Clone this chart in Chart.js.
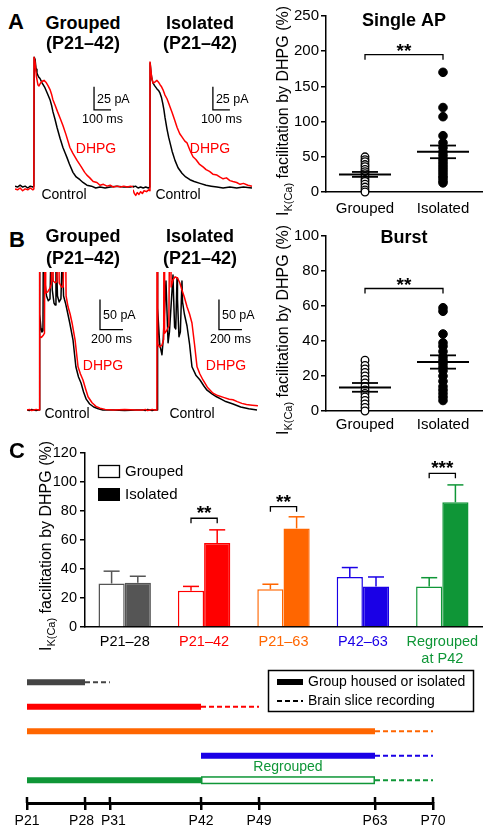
<!DOCTYPE html>
<html>
<head>
<meta charset="utf-8">
<title>DHPG facilitation of IK(Ca)</title>
<script src="https://cdn.jsdelivr.net/npm/chart.js@4.4.1/dist/chart.umd.min.js"></script>
<style>
  html, body { margin: 0; padding: 0; background: #fff; }
  #fig { position: relative; width: 493px; height: 834px; overflow: hidden; font-family: "Liberation Sans", Arial, Helvetica, sans-serif; }
  #fig canvas { position: absolute; }
  .lbl { position: absolute; transform: translate(-50%, -50%); white-space: nowrap; line-height: 1; color: #000; }
  .panel { font-weight: bold; font-size: 22px; }
  .ttl { font-weight: bold; font-size: 18px; }
  .dhpg { color: #ff0000; font-size: 14px; }
  .ctrl { font-size: 14px; }
</style>
</head>
<body>
<div id="fig">
  <canvas id="traceAGrouped" width="120" height="147" style="left:15px;top:50px"></canvas>
  <canvas id="traceAIsolated" width="120" height="147" style="left:133px;top:50px"></canvas>
  <canvas id="traceBGrouped" width="116" height="142" style="left:27px;top:272px"></canvas>
  <canvas id="traceBIsolated" width="117" height="142" style="left:143px;top:272px"></canvas>
  <canvas id="scatterA" width="231" height="225" style="left:262px;top:0px"></canvas>
  <canvas id="scatterB" width="231" height="215" style="left:262px;top:225px"></canvas>
  <canvas id="barsC" width="493" height="228" style="left:0px;top:440px"></canvas>
  <canvas id="timeline" width="493" height="166" style="left:0px;top:668px"></canvas>

  <div class="lbl panel" style="left:16px;top:22px">A</div>
  <div class="lbl ttl" style="left:83px;top:23px">Grouped</div>
  <div class="lbl ttl" style="left:83px;top:43px">(P21–42)</div>
  <div class="lbl ttl" style="left:200px;top:23px">Isolated</div>
  <div class="lbl ttl" style="left:200px;top:43px">(P21–42)</div>
  <div class="lbl dhpg" style="left:96px;top:148px">DHPG</div>
  <div class="lbl dhpg" style="left:210px;top:148px">DHPG</div>
  <div class="lbl ctrl" style="left:64px;top:194px">Control</div>
  <div class="lbl ctrl" style="left:178px;top:194px">Control</div>

  <div class="lbl panel" style="left:17px;top:240px">B</div>
  <div class="lbl ttl" style="left:83px;top:236px">Grouped</div>
  <div class="lbl ttl" style="left:83px;top:258px">(P21–42)</div>
  <div class="lbl ttl" style="left:200px;top:236px">Isolated</div>
  <div class="lbl ttl" style="left:200px;top:258px">(P21–42)</div>
  <div class="lbl dhpg" style="left:103px;top:365px">DHPG</div>
  <div class="lbl dhpg" style="left:226px;top:365px">DHPG</div>
  <div class="lbl ctrl" style="left:67px;top:413px">Control</div>
  <div class="lbl ctrl" style="left:192px;top:413px">Control</div>

  <div class="lbl panel" style="left:17px;top:451px">C</div>
</div>

<script>
// ---- data ----

// Panel A traces: [time ms, current pA]
const aGroupedDhpg = [[0,-2],[15,-3],[30,-1],[45,-4],[60,-2],[75,-3],[90,-1],[105,-3],[111,-2],[112,141],[118,136],[126,120],[135,111],[141,110],[150,113],[160,115],[171,116],[182,114],[195,110],[206,106],[215,101],[223,95],[236,89],[250,82],[265,75],[282,67],[300,57],[323,43],[340,37],[365,29],[390,22],[410,16],[423,13],[440,10],[460,6],[482,5],[500,2],[520,3],[541,1],[560,2],[580,0],[600,1],[620,0],[640,1],[660,0],[680,1],[700,0]];
const aGroupedCtrl = [[0,1],[15,0],[30,2],[45,0],[60,1],[75,-1],[90,1],[105,0],[111,1],[113,141],[118,139],[124,128],[129,124],[138,120],[147,118],[160,113],[176,108],[190,102],[206,95],[215,89],[223,82],[235,74],[247,65],[265,53],[282,43],[295,37],[306,32],[320,25],[341,16],[360,11],[382,8],[400,5],[423,2],[450,1],[475,-1],[500,0],[530,-1],[560,0],[600,1],[640,0],[680,0],[700,1]];
const aIsolatedDhpg = [[0,-2],[8,-6],[16,-8],[25,-5],[35,-7],[45,-4],[55,-6],[65,-3],[80,-4],[92,-2],[99,-3],[100,137],[104,130],[110,120],[118,114],[128,115],[141,117],[150,115],[160,112],[168,110],[176,107],[188,101],[200,97],[210,92],[218,88],[230,82],[245,74],[259,66],[275,59],[290,55],[305,51],[318,49],[335,41],[353,34],[370,31],[390,26],[412,23],[430,20],[450,18],[470,15],[494,14],[510,12],[530,10],[550,11],[570,8],[588,7],[610,6],[630,4],[650,5],[676,3],[700,2]];
const aIsolatedCtrl = [[0,1],[15,2],[30,0],[45,1],[60,0],[75,1],[90,0],[99,1],[101,136],[106,125],[112,118],[118,114],[128,111],[140,108],[150,106],[159,103],[168,98],[175,92],[182,85],[188,77],[200,64],[210,55],[218,49],[230,40],[247,30],[265,22],[288,16],[310,12],[335,9],[360,7],[394,5],[430,3],[460,2],[494,1],[530,0],[570,1],[610,0],[650,1],[700,0]];

// Panel B traces (spikes run off the top of the panel)
const bGroupedDhpg = [[0,0],[20,1],[40,-1],[60,0],[80,1],[100,0],[106,0],[107,400],[110,400],[113,122],[125,121],[140,124],[152,128],[157,400],[160,400],[165,195],[180,197],[200,203],[212,210],[218,400],[222,400],[228,215],[245,212],[260,214],[270,400],[274,400],[280,212],[300,205],[315,205],[331,400],[335,400],[340,190],[357,172],[375,160],[392,145],[418,117],[444,72],[465,60],[487,50],[510,35],[531,22],[566,12],[600,6],[635,3],[680,1],[750,0],[850,1],[950,0],[1009,0]];
const bGroupedCtrl = [[0,0],[20,-1],[40,1],[60,0],[80,-1],[100,0],[106,0],[108,380],[113,160],[122,135],[130,130],[139,132],[145,400],[150,380],[158,210],[170,190],[185,182],[200,185],[208,260],[213,240],[220,200],[235,178],[244,175],[252,260],[258,240],[265,190],[280,180],[295,185],[305,250],[312,230],[318,190],[335,178],[350,165],[372,145],[400,117],[425,72],[448,55],[470,45],[492,30],[515,18],[545,10],[580,5],[620,2],[660,0],[750,0],[850,-1],[950,0],[1009,0]];
const bIsolatedDhpg = [[0,0],[20,1],[40,-1],[60,0],[80,1],[100,0],[121,0],[122,400],[125,400],[130,110],[145,105],[165,108],[180,118],[183,400],[186,400],[190,128],[205,132],[225,140],[235,400],[238,400],[245,205],[261,217],[280,222],[300,220],[320,212],[339,200],[360,188],[383,172],[405,160],[426,145],[448,110],[470,72],[495,60],[522,50],[560,38],[609,28],[650,24],[700,21],[750,18],[783,17],[820,14],[860,11],[900,9],[950,8],[1000,7]];
const bIsolatedCtrl = [[0,0],[20,-1],[40,1],[60,0],[80,-1],[100,0],[122,0],[124,330],[130,170],[145,110],[165,92],[175,115],[200,215],[206,180],[218,112],[230,130],[261,225],[266,190],[275,138],[285,135],[296,220],[300,185],[313,122],[325,130],[339,215],[344,180],[360,160],[383,140],[405,110],[426,72],[460,58],[496,50],[530,40],[557,33],[600,27],[640,22],[680,18],[720,14],[783,10],[850,5],[920,2],[992,0]];

// Scatter panels (% facilitation)
const scatterGroups = ['Grouped', 'Isolated'];
const singleApGrouped = [50, 46, 43, 39, 36, 32, 29, 26, 22, 18, 15, 11, 7, 3, 0];
const singleApIsolated = [170, 120, 107, 80, 70, 63, 57, 52, 47, 43, 39, 35, 31, 27, 23, 20, 16, 13];
const singleApMean = [25, 57];
const singleApSem = [3.5, 9];
const burstGrouped = [29, 26, 24, 22, 20, 18, 16, 14, 12, 10, 8, 6, 4, 2, 0];
const burstIsolated = [59, 57, 44, 39, 37, 34, 31, 29, 27, 25, 23, 20, 17, 14, 12, 10, 8, 6];
const burstMean = [13.5, 28];
const burstSem = [2.5, 3.8];

// Panel C bars
const groupsC = ['P21–28', 'P21–42', 'P21–63', 'P42–63', ['Regrouped', 'at P42']];
const groupedC = [30, 25, 26, 34.5, 28];
const groupedErr = [8.5, 3, 3.5, 6.5, 6];
const isolatedC = [30.5, 58, 68, 28, 86];
const isolatedErr = [4.5, 9, 8, 6.5, 12];
const sigC = [null, 75, 83, null, 106];
const sigLabelC = ['', '**', '**', '', '***'];

// Timeline (postnatal day)
const timelineStart = [21, 21, 21, 42, 21];
const timelineEnd = [28, 42, 63, 63, 42];
const regroupedEnd = [null, null, null, null, 63];
const recordEnd = [31, 49, 70, 70, 70];
const dayTicks = [21, 28, 31, 42, 49, 63, 70];

// ---- styling ----
const FONT = '"Liberation Sans", Arial, Helvetica, sans-serif';
const RED = '#ff0000';
const colorsC = ['#555555', '#ff0000', '#ff6600', '#1a00e6', '#0f9637'];
const labelColorsC = ['#000000', '#ff0000', '#ff6600', '#1a00e6', '#0f9637'];
const tlColors = ['#444444', '#ff0000', '#ff6600', '#1a00e6', '#0f9637'];
// crowded day labels are pushed apart a little, as in the original
const dayLabelNudge = { 28: 'P28\u2002', 31: '\u2002P31' };

Chart.defaults.font.family = FONT;
Chart.defaults.font.size = 15;
Chart.defaults.color = '#000';
Chart.defaults.animation = false;
Chart.defaults.responsive = false;
Chart.defaults.devicePixelRatio = 1;
Chart.defaults.plugins.legend.display = false;
Chart.defaults.plugins.tooltip.enabled = false;

const xy = arr => arr.map(p => ({ x: p[0], y: p[1] }));

function line(ctx, x0, y0, x1, y1) {
    ctx.beginPath();
    ctx.moveTo(x0, y0);
    ctx.lineTo(x1, y1);
    ctx.stroke();
}

// rotated "I K(Ca) facilitation by DHPG (%)" with a subscript
function yTitle(ctx, cx, cy) {
    ctx.save();
    ctx.translate(cx, cy);
    ctx.rotate(-Math.PI / 2);
    ctx.fillStyle = '#000';
    ctx.textAlign = 'left';
    ctx.textBaseline = 'alphabetic';
    const parts = [['I', 16, 0], ['K(Ca)', 11, 4], [' facilitation by DHPG (%)', 16, 0]];
    let w = 0;
    parts.forEach(p => { ctx.font = p[1] + 'px ' + FONT; w += ctx.measureText(p[0]).width; });
    let x = -w / 2;
    parts.forEach(p => {
        ctx.font = p[1] + 'px ' + FONT;
        ctx.fillText(p[0], x, 6 + p[2]);
        x += ctx.measureText(p[0]).width;
    });
    ctx.restore();
}

// scale bar drawn through the trace chart's own scales
const scaleBarPlugin = {
    id: 'scaleBar',
    afterDatasetsDraw(chart, args, opts) {
        if (!opts || opts.t === undefined) return;
        const { ctx, scales: { x, y } } = chart;
        const x0 = x.getPixelForValue(opts.t), y0 = y.getPixelForValue(opts.i);
        const x1 = x.getPixelForValue(opts.t + opts.dt), y1 = y.getPixelForValue(opts.i + opts.di);
        ctx.save();
        ctx.strokeStyle = '#000';
        ctx.lineWidth = 1.3;
        ctx.beginPath();
        ctx.moveTo(x0, y1);
        ctx.lineTo(x0, y0);
        ctx.lineTo(x1, y0);
        ctx.stroke();
        ctx.fillStyle = '#000';
        ctx.font = '12.5px ' + FONT;
        ctx.textAlign = 'left';
        ctx.textBaseline = 'middle';
        ctx.fillText(opts.yLabel, x0 + 3, (y0 + y1) / 2 + 1);
        ctx.textAlign = 'center';
        ctx.fillText(opts.xLabel, (x0 + x1) / 2, y0 + 10);
        ctx.restore();
    }
};

function traceChart(id, ctrl, dhpg, xMax, yMin, yMax, bar) {
    return new Chart(document.getElementById(id), {
        type: 'line',
        data: {
            datasets: [
                { data: xy(dhpg), borderColor: RED, borderWidth: 1.5, pointRadius: 0, borderJoinStyle: 'round' },
                { data: xy(ctrl), borderColor: '#000', borderWidth: 1.5, pointRadius: 0, borderJoinStyle: 'round' }
            ]
        },
        options: {
            layout: { padding: 0 },
            scales: {
                x: { type: 'linear', display: false, min: 0, max: xMax },
                y: { type: 'linear', display: false, min: yMin, max: yMax }
            },
            plugins: { scaleBar: bar }
        },
        plugins: [scaleBarPlugin]
    });
}

traceChart('traceAGrouped', aGroupedCtrl, aGroupedDhpg, 706, -10.8, 149,
    { t: 465, i: 84, dt: 100, di: 25, xLabel: '100 ms', yLabel: '25 pA' });
traceChart('traceAIsolated', aIsolatedCtrl, aIsolatedDhpg, 706, -9.8, 150,
    { t: 470, i: 85, dt: 100, di: 25, xLabel: '100 ms', yLabel: '25 pA' });
traceChart('traceBGrouped', bGroupedCtrl, bGroupedDhpg, 1009, -6.7, 230,
    { t: 635, i: 134, dt: 200, di: 50, xLabel: '200 ms', yLabel: '50 pA' });
traceChart('traceBIsolated', bIsolatedCtrl, bIsolatedDhpg, 1018, -6.7, 230,
    { t: 661, i: 134, dt: 200, di: 50, xLabel: '200 ms', yLabel: '50 pA' });

// scatter with mean ± SEM lines
function scatterChart(id, grp, iso, mean, sem, cfg) {
    const decor = {
        id: 'scatterDecor',
        afterDatasetsDraw(chart) {
            const { ctx, chartArea, scales: { x, y } } = chart;
            ctx.save();
            ctx.strokeStyle = '#000';
            mean.forEach((m, i) => {
                const cx = x.getPixelForValue(i);
                ctx.lineWidth = 2;
                line(ctx, cx - 26, y.getPixelForValue(m), cx + 26, y.getPixelForValue(m));
                ctx.lineWidth = 1.8;
                line(ctx, cx - 13, y.getPixelForValue(m + sem[i]), cx + 13, y.getPixelForValue(m + sem[i]));
                line(ctx, cx - 13, y.getPixelForValue(m - sem[i]), cx + 13, y.getPixelForValue(m - sem[i]));
            });
            // significance bracket
            const xa = x.getPixelForValue(0), xb = x.getPixelForValue(1), yb = y.getPixelForValue(cfg.sig);
            ctx.lineWidth = 1.3;
            ctx.beginPath();
            ctx.moveTo(xa, yb + 5);
            ctx.lineTo(xa, yb);
            ctx.lineTo(xb, yb);
            ctx.lineTo(xb, yb + 5);
            ctx.stroke();
            ctx.fillStyle = '#000';
            ctx.textAlign = 'center';
            ctx.font = 'bold 19px ' + FONT;
            ctx.textBaseline = 'alphabetic';
            ctx.fillText('**', (xa + xb) / 2, yb + 2);
            // panel title
            ctx.font = 'bold 18px ' + FONT;
            ctx.textBaseline = 'middle';
            ctx.fillText(cfg.title, (chartArea.left + chartArea.right) / 2, cfg.titleY);
            yTitle(ctx, 20, cfg.yTitleY);
            ctx.restore();
        }
    };
    return new Chart(document.getElementById(id), {
        type: 'scatter',
        data: {
            labels: scatterGroups,
            datasets: [
                { data: grp.map(v => ({ x: scatterGroups[0], y: v })), pointRadius: 3.8, backgroundColor: '#fff', borderColor: '#000', borderWidth: 1.3, clip: false },
                { data: iso.map(v => ({ x: scatterGroups[1], y: v })), pointRadius: 4.3, backgroundColor: '#000', borderColor: '#000', borderWidth: 1, clip: false }
            ]
        },
        options: {
            layout: { padding: { top: cfg.padTop, right: 11, left: 0, bottom: 0 } },
            scales: {
                x: {
                    type: 'category', offset: true,
                    grid: { display: false, drawTicks: false },
                    border: { color: '#000', width: 1.5 },
                    ticks: { padding: cfg.labelPad, font: { size: 15 } },
                    afterFit: s => { s.height = cfg.xH; }
                },
                y: {
                    min: 0, max: cfg.yMax,
                    ticks: { stepSize: cfg.step, padding: 2, font: { size: 15 } },
                    grid: { drawOnChartArea: false, color: '#000', lineWidth: 1.5, tickLength: 5 },
                    border: { color: '#000', width: 1.5 },
                    afterFit: s => { s.width = 64; }
                }
            }
        },
        plugins: [decor]
    });
}

scatterChart('scatterA', singleApGrouped, singleApIsolated, singleApMean, singleApSem,
    { sig: 195, title: 'Single AP', titleY: 21, yTitleY: 111, padTop: 16, xH: 33, labelPad: 8, yMax: 250, step: 50 });
scatterChart('scatterB', burstGrouped, burstIsolated, burstMean, burstSem,
    { sig: 70, title: 'Burst', titleY: 13, yTitleY: 105, padTop: 10, xH: 29, labelPad: 5, yMax: 100, step: 20 });

// Panel C: bars with error bars, brackets and legend
const barDecor = {
    id: 'barDecor',
    afterDatasetsDraw(chart) {
        const { ctx, chartArea, scales: { y } } = chart;
        ctx.save();
        [groupedErr, isolatedErr].forEach((errs, di) => {
            const meta = chart.getDatasetMeta(di);
            const vals = chart.data.datasets[di].data;
            meta.data.forEach((bar, i) => {
                const top = y.getPixelForValue(vals[i] + errs[i]);
                ctx.strokeStyle = colorsC[i];
                ctx.lineWidth = 1.5;
                line(ctx, bar.x, bar.y, bar.x, top);
                line(ctx, bar.x - 8, top, bar.x + 8, top);
            });
        });
        // significance brackets
        const g = chart.getDatasetMeta(0).data, s = chart.getDatasetMeta(1).data;
        ctx.strokeStyle = '#000';
        ctx.fillStyle = '#000';
        ctx.lineWidth = 1.3;
        ctx.textAlign = 'center';
        ctx.textBaseline = 'alphabetic';
        ctx.font = 'bold 19px ' + FONT;
        sigC.forEach((v, i) => {
            if (v === null) return;
            const xa = g[i].x, xb = s[i].x, yb = y.getPixelForValue(v);
            ctx.beginPath();
            ctx.moveTo(xa, yb + 5);
            ctx.lineTo(xa, yb);
            ctx.lineTo(xb, yb);
            ctx.lineTo(xb, yb + 5);
            ctx.stroke();
            ctx.fillText(sigLabelC[i], (xa + xb) / 2, yb + 1);
        });
        // legend
        const L = chartArea.left + 13, T = chartArea.top + 12;
        ctx.lineWidth = 1.3;
        ctx.strokeRect(L + 0.5, T + 0.5, 21, 12);
        ctx.fillRect(L, T + 23, 22, 13);
        ctx.font = '15px ' + FONT;
        ctx.textAlign = 'left';
        ctx.textBaseline = 'middle';
        ctx.fillText('Grouped', L + 27, T + 7);
        ctx.fillText('Isolated', L + 27, T + 30);
        yTitle(ctx, 45, 106);
        ctx.restore();
    }
};

new Chart(document.getElementById('barsC'), {
    type: 'bar',
    data: {
        labels: groupsC,
        datasets: [
            { label: 'Grouped', data: groupedC, backgroundColor: '#fff', borderColor: colorsC, borderWidth: 1.5, categoryPercentage: 0.66, barPercentage: 1 },
            { label: 'Isolated', data: isolatedC, backgroundColor: colorsC, borderColor: colorsC, borderWidth: 1.5, categoryPercentage: 0.66, barPercentage: 1 }
        ]
    },
    options: {
        layout: { padding: { top: 13, right: 11, left: 0, bottom: 0 } },
        scales: {
            x: {
                grid: { display: false, drawTicks: false },
                border: { color: '#000', width: 1.5 },
                ticks: { color: c => labelColorsC[c.index], font: { size: 14.5 }, padding: 6, maxRotation: 0, autoSkip: false },
                afterFit: s => { s.height = 41; }
            },
            y: {
                min: 0, max: 120,
                ticks: { stepSize: 20, font: { size: 14.5 }, padding: 3 },
                grid: { drawOnChartArea: false, color: '#000', lineWidth: 1.5, tickLength: 5 },
                border: { color: '#000', width: 1.5 },
                afterFit: s => { s.width = 85; }
            }
        }
    },
    plugins: [barDecor]
});

// Timeline
const tlDatasets = [];
timelineStart.forEach((start, i) => {
    const row = i + 0.5;
    tlDatasets.push({ data: [{ x: start, y: row }, { x: timelineEnd[i], y: row }], borderColor: tlColors[i], borderWidth: 6, pointRadius: 0 });
    const dashFrom = regroupedEnd[i] || timelineEnd[i];
    tlDatasets.push({ data: [{ x: dashFrom, y: row }, { x: recordEnd[i], y: row }], borderColor: tlColors[i], borderWidth: 2, borderDash: [5, 3], pointRadius: 0 });
});

const timelineDecor = {
    id: 'timelineDecor',
    afterDraw(chart) {
        const { ctx, chartArea, scales: { x, y } } = chart;
        ctx.save();
        regroupedEnd.forEach((end, i) => {
            if (!end) return;
            const x0 = x.getPixelForValue(timelineEnd[i]), x1 = x.getPixelForValue(end);
            const yc = y.getPixelForValue(i + 0.5);
            ctx.fillStyle = '#fff';
            ctx.fillRect(x0, yc - 3.5, x1 - x0, 7);
            ctx.strokeStyle = tlColors[i];
            ctx.lineWidth = 1.5;
            ctx.strokeRect(x0 + 0.75, yc - 3.25, x1 - x0 - 1.5, 6.5);
            ctx.fillStyle = tlColors[i];
            ctx.font = '14px ' + FONT;
            ctx.textAlign = 'center';
            ctx.textBaseline = 'middle';
            ctx.fillText('Regrouped', (x0 + x1) / 2, yc - 13);
        });
        // upper half of the axis ticks
        const ya = chartArea.bottom;
        ctx.strokeStyle = '#000';
        ctx.lineWidth = 2.5;
        dayTicks.forEach(d => {
            const px = x.getPixelForValue(d);
            line(ctx, px, ya - 6, px, ya);
        });
        // legend box
        ctx.lineWidth = 1.5;
        ctx.strokeRect(268.5, 2.5, 205, 41);
        ctx.lineWidth = 6;
        line(ctx, 277, 14, 303, 14);
        ctx.lineWidth = 2;
        ctx.setLineDash([5, 3]);
        line(ctx, 277, 33, 303, 33);
        ctx.setLineDash([]);
        ctx.fillStyle = '#000';
        ctx.font = '14px ' + FONT;
        ctx.textAlign = 'left';
        ctx.textBaseline = 'middle';
        ctx.fillText('Group housed or isolated', 308, 14);
        ctx.fillText('Brain slice recording', 308, 33);
        ctx.restore();
    }
};

new Chart(document.getElementById('timeline'), {
    type: 'line',
    data: { datasets: tlDatasets },
    options: {
        layout: { padding: { left: 27, right: 60, top: 2, bottom: 0 } },
        scales: {
            x: {
                type: 'linear', min: 21, max: 70,
                afterBuildTicks: s => { s.ticks = dayTicks.map(v => ({ value: v })); },
                ticks: { callback: v => dayLabelNudge[v] || ('P' + v), font: { size: 14 }, padding: 3, maxRotation: 0, autoSkip: false },
                grid: { drawOnChartArea: false, color: '#000', lineWidth: 2.5, tickLength: 7 },
                border: { color: '#000', width: 3 },
                afterFit: s => { s.height = 31; }
            },
            y: { type: 'linear', display: false, reverse: true, min: 0, max: 5.43 }
        }
    },
    plugins: [timelineDecor]
});
</script>
</body>
</html>
